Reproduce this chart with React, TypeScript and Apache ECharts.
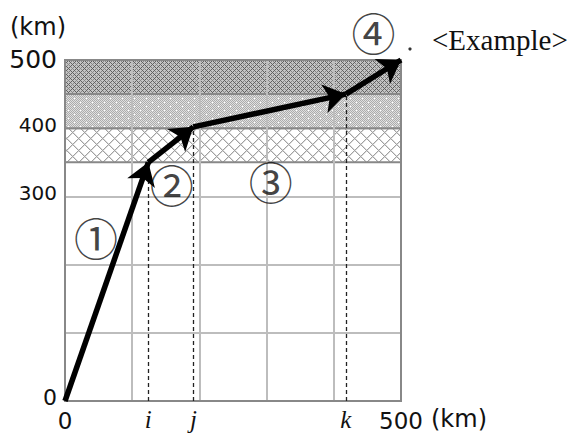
import { useEffect, useRef } from 'react';
import * as echarts from 'echarts';

// ---- data ----
const xLimits = [0, 500];
const yLimits = [0, 500];
const gridStep = 100;
const yTickLabels: Record<number, string> = { 0: '0', 300: '300', 400: '400', 500: '500' };
const xTickLabels: Record<number, string> = { 0: '0', 500: '500' };
const bandLower = [350, 400];
const bandMiddle = [400, 450];
const bandUpper = [450, 500];
const pathPointX = [0, 124, 191, 418, 500];
const pathPointY = [0, 350, 402, 450, 500];
const markerNames = ['i', 'j', 'k'];
const segmentLabels = ['①', '②', '③', '④'];
const segmentLabelX = [46, 159, 306, 459];
const segmentLabelY = [240, 318, 322, 541];

function makePattern(w: number, h: number, px: (x: number, y: number) => string) {
  const c = document.createElement('canvas');
  c.width = w;
  c.height = h;
  const ctx = c.getContext('2d')!;
  for (let y = 0; y < h; y++) {
    for (let x = 0; x < w; x++) {
      ctx.fillStyle = px(x, y);
      ctx.fillRect(x, y, 1, 1);
    }
  }
  return { image: c, repeat: 'repeat', imageWidth: w, imageHeight: h } as any;
}

export default function App() {
  const ref = useRef<HTMLDivElement>(null);
  useEffect(() => {
    if (!ref.current) return;
    const chart = echarts.init(ref.current, undefined, { renderer: 'svg' });

    const upperPat = makePattern(8, 8, (x, y) => {
      if ((x + y) % 8 === 0 || (x - y + 8) % 8 === 0) return '#606060';
      if ((x + y) % 8 === 4 || (x - y + 8) % 8 === 4) return '#858585';
      return '#c4c4c4';
    });
    const middlePat = makePattern(12, 8, (x, y) => {
      if ((x === 2 && y === 2) || (x === 8 && y === 6)) return '#ffffff';
      return (x + y) % 2 === 0 ? '#acacac' : '#e0e0e0';
    });
    const lowerPat = makePattern(12, 12, (x, y) => {
      if ((x + y) % 12 === 0 || (x - y + 12) % 12 === 0) return '#a0a0a0';
      if ((x + y) % 12 === 1 || (x - y + 12) % 12 === 1) return '#dcdcdc';
      return '#ffffff';
    });

    const bands = [
      { b: bandLower, c: lowerPat },
      { b: bandMiddle, c: middlePat },
      { b: bandUpper, c: upperPat },
    ];

    const segs = [];
    for (let s = 0; s < pathPointX.length - 1; s++) {
      segs.push({ coords: [[pathPointX[s], pathPointY[s]], [pathPointX[s + 1], pathPointY[s + 1]]] });
    }

    const dashed = markerNames.map((n, idx) => [
      { coord: [pathPointX[idx + 1], 0], name: n },
      { coord: [pathPointX[idx + 1], pathPointY[idx + 1]] },
    ]);

    const sans = 'DejaVu Sans';
    chart.setOption({
      animation: false,
      grid: { left: 65, right: 173, top: 60, bottom: 34, show: true, borderColor: '#888', borderWidth: 2, z: 4 },
      xAxis: {
        type: 'value',
        min: xLimits[0],
        max: xLimits[1],
        interval: gridStep,
        z: 3,
        axisLine: { show: false },
        axisTick: { show: false },
        splitLine: { show: true, showMinLine: false, showMaxLine: false, lineStyle: { color: '#bdbdbd', width: 2 } },
        axisLabel: {
          margin: 8,
          color: '#111',
          fontFamily: sans,
          fontSize: 23,
          formatter: (v: number) => xTickLabels[v] ?? '',
        },
        name: '(km)',
        nameLocation: 'end',
        nameGap: 30,
        nameTextStyle: { fontFamily: sans, fontSize: 24, color: '#111', verticalAlign: 'top', padding: [6, 0, 0, 0] },
      },
      yAxis: {
        type: 'value',
        min: yLimits[0],
        max: yLimits[1],
        interval: gridStep,
        axisLine: { show: false },
        axisTick: { show: false },
        splitLine: { show: true, lineStyle: { color: '#bdbdbd', width: 2 } },
        axisLabel: {
          margin: 8,
          color: '#111',
          fontFamily: sans,
          formatter: (v: number) => {
            const t = yTickLabels[v];
            if (t === undefined) return '';
            if (v === 500) return '{big|' + t + '}';
            if (v === 0) return '{zero|' + t + '}';
            return '{mid|' + t + '}';
          },
          rich: {
            big: { fontSize: 25, fontFamily: sans, color: '#111', padding: [0, 0, 2, 0] },
            mid: { fontSize: 20, fontFamily: sans, color: '#111', padding: [0, 0, 6, 0] },
            zero: { fontSize: 22, fontFamily: sans, color: '#111', padding: [0, 0, 8, 0] },
          },
        },
      },
      series: [
        {
          type: 'line',
          data: [],
          z: 2,
          silent: true,
          markArea: {
            silent: true,
            data: bands.map((bd) => [
              { xAxis: xLimits[0], yAxis: bd.b[0], itemStyle: { color: bd.c, borderColor: '#888', borderWidth: 2 } },
              { xAxis: xLimits[1], yAxis: bd.b[1] },
            ]),
          },
          markLine: {
            silent: true,
            symbol: ['none', 'none'],
            lineStyle: { color: '#222', width: 1.3, type: [4, 3] },
            label: {
              show: true,
              position: 'start',
              distance: 6,
              formatter: (p: any) => p.name,
              fontFamily: 'Liberation Serif',
              fontStyle: 'italic',
              fontSize: 25,
              color: '#111',
            },
            data: dashed,
          },
        },
        {
          type: 'lines',
          coordinateSystem: 'cartesian2d',
          z: 6,
          silent: true,
          symbol: ['none', 'arrow'],
          symbolSize: [1, 22],
          lineStyle: { color: '#000', width: 5.5, opacity: 1, curveness: 0 },
          data: segs,
        },
        {
          type: 'scatter',
          z: 7,
          silent: true,
          clip: false,
          symbolSize: 1,
          itemStyle: { color: 'rgba(0,0,0,0)' },
          label: {
            show: true,
            position: 'inside',
            formatter: (p: any) => p.name,
            fontFamily: 'Noto Sans CJK JP',
            fontSize: 44,
            lineHeight: 34,
            color: '#111',
          },
          data: segmentLabels.map((n, idx) => ({ name: n, value: [segmentLabelX[idx], segmentLabelY[idx]] })),
        },
      ],
      graphic: [
        {
          type: 'text',
          left: 10,
          top: 15,
          style: { text: '(km)', fontFamily: sans, fontSize: 24, fill: '#111' },
        },
        {
          type: 'text',
          left: 432,
          top: 25,
          style: { text: '<Example>', fontFamily: 'Liberation Serif', fontSize: 29, fill: '#111' },
        },
        {
          type: 'circle',
          shape: { cx: 410, cy: 49, r: 1.6 },
          style: { fill: '#333' },
        },
      ],
    });
    return () => chart.dispose();
  }, []);
  return <div ref={ref} style={{ position: 'fixed', left: 0, top: 0, width: 574, height: 435, background: '#fff' }} />;
}
